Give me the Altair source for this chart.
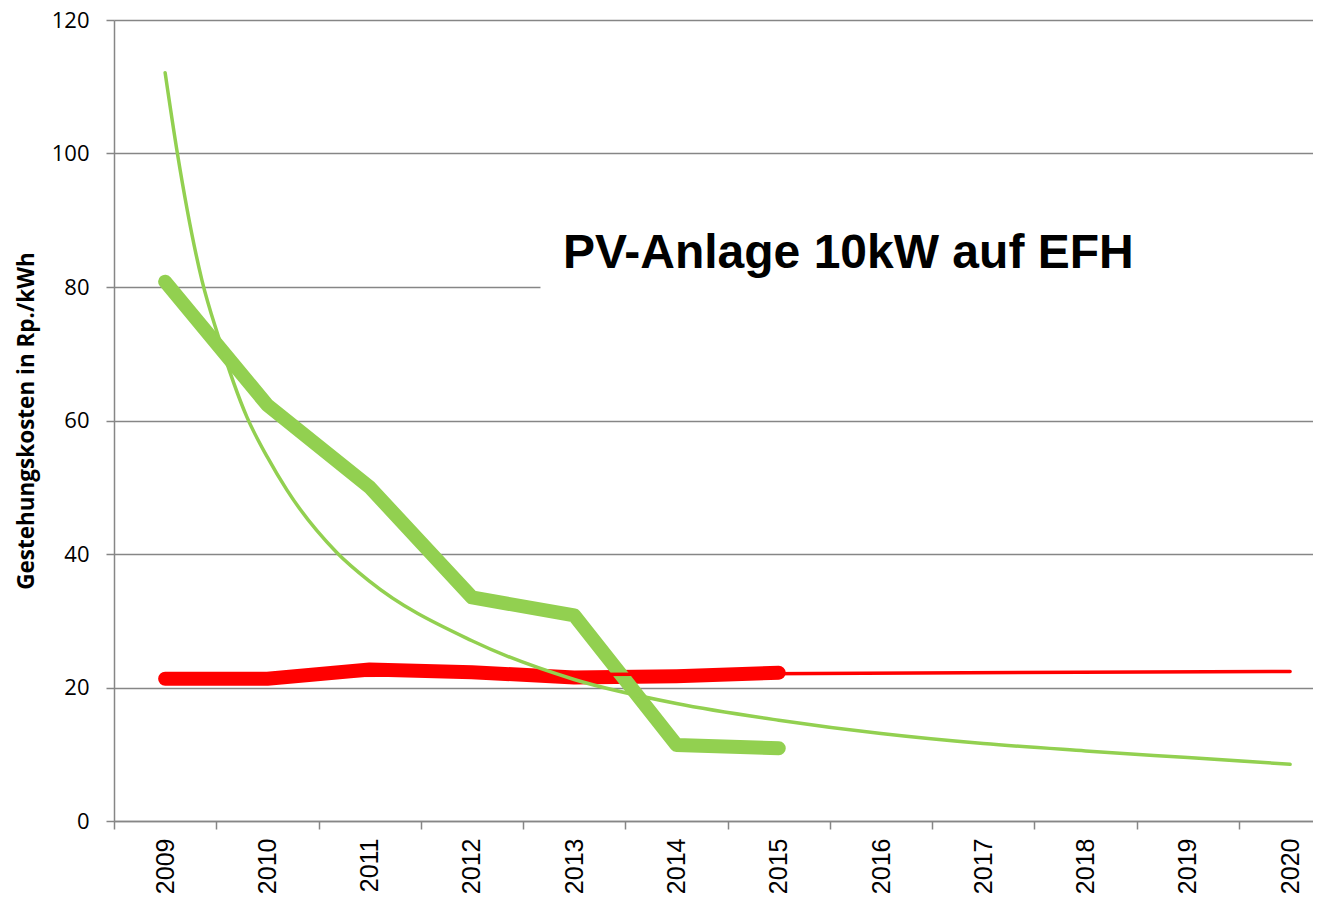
import altair as alt
import pandas as pd

# ---- data ----
pv_years = [2009, 2010, 2011, 2012, 2013, 2014, 2015]
pv_cost = [80.8, 62.3, 50.0, 33.5, 30.8, 11.4, 10.9]
grid_price = [21.3, 21.3, 22.7, 22.3, 21.5, 21.7, 22.2]

pv_trend_x = [2009, 2009.12, 2009.36, 2009.52, 2009.8, 2010, 2010.19, 2010.68,
              2011, 2012, 2013, 2014, 2015, 2016, 2017, 2018, 2019, 2020]
pv_trend_y = [112.1, 100, 81, 72.6, 60.5, 54.5, 49.6, 40.2,
              35.9, 27.0, 21.2, 17.6, 15.1, 13.1, 11.6, 10.5, 9.5, 8.5]

price_trend_x = [2009, 2020]
price_trend_y = [21.7, 22.4]

axis_years = list(range(2009, 2021))
y_ticks = [0, 20, 40, 60, 80, 100, 120]

title_text = "PV-Anlage 10kW auf EFH"
y_title = "Gestehungskosten in Rp./kWh"

GREEN = "#92D050"
RED = "#FF0000"
GRAY = "#868686"

PAD_LEFT = 106
W = 1305 - PAD_LEFT
H = 801
PX_PER_YEAR = 102.27
x_min = 2008.5
x_max = x_min + W / PX_PER_YEAR
half = PX_PER_YEAR / 2

pv_df = pd.DataFrame({"year": pv_years, "value": pv_cost})
price_df = pd.DataFrame({"year": pv_years, "value": grid_price})
pv_trend_df = pd.DataFrame({"year": pv_trend_x, "value": pv_trend_y})
price_trend_df = pd.DataFrame({"year": price_trend_x, "value": price_trend_y})

ann_box = pd.DataFrame({"x": [2012.67], "x2": [x_max], "y": [74], "y2": [92]})
ann_text = pd.DataFrame({"x": [2015.68], "y": [82.8], "text": [title_text]})

x_scale = alt.Scale(domain=[x_min, x_max], nice=False, zero=False)
y_scale = alt.Scale(domain=[0, 120], nice=False, zero=True)

x_axis = alt.Axis(
    values=axis_years, format="d", labelAngle=-90, labelFont="Liberation Sans",
    labelFontSize=25, labelColor="black", labelPadding=9, tickSize=8,
    tickOffset=-half, labelOffset=half, tickColor=GRAY, tickWidth=1.5,
    domainColor=GRAY, domainWidth=1.5, grid=False, title=None,
    labelFlush=False, labelOverlap=False, labelBound=False,
)
y_axis = alt.Axis(
    values=y_ticks, labelFont="Open Sans", labelFontSize=22, labelColor="black",
    labelPadding=17, tickSize=8, tickColor=GRAY, tickWidth=1.5,
    domainColor=GRAY, domainWidth=1.5, grid=True, gridColor=GRAY, gridWidth=1.5,
    title=y_title, titleFont="Open Sans", titleFontSize=22.5, titleFontWeight="bold",
    titleColor="black", titlePadding=13,
)

X = alt.X("year:Q", scale=x_scale, axis=x_axis)
Y = alt.Y("value:Q", scale=y_scale, axis=y_axis)

box = alt.Chart(ann_box).mark_rect(color="white", clip=True).encode(
    x=alt.X("x:Q", scale=x_scale, axis=x_axis), x2="x2:Q",
    y=alt.Y("y:Q", scale=y_scale, axis=y_axis), y2="y2:Q",
)

price_line = alt.Chart(price_df).mark_line(
    color=RED, strokeWidth=14, strokeCap="round", strokeJoin="round", clip=True
).encode(x=X, y=Y)

pv_line = alt.Chart(pv_df).mark_line(
    color=GREEN, strokeWidth=14, strokeCap="round", strokeJoin="round", clip=True
).encode(x=X, y=Y)

price_trend = alt.Chart(price_trend_df).mark_line(
    color=RED, strokeWidth=3.5, strokeCap="round", clip=True
).encode(x=X, y=Y)

pv_trend = alt.Chart(pv_trend_df).mark_line(
    color=GREEN, strokeWidth=3.5, strokeCap="round", interpolate="monotone", clip=True
).encode(x=X, y=Y)

title = alt.Chart(ann_text).mark_text(
    font="Liberation Sans", fontSize=48, fontWeight="bold", color="black",
    align="center", baseline="alphabetic",
).encode(
    x=alt.X("x:Q", scale=x_scale, axis=x_axis),
    y=alt.Y("y:Q", scale=y_scale, axis=y_axis),
    text="text:N",
)

chart = alt.layer(box, price_line, pv_line, price_trend, pv_trend, title).properties(
    width=W, height=H,
    autosize=alt.AutoSizeParams(type="none"),
    padding={"left": PAD_LEFT, "top": 12, "right": 0, "bottom": 78},
    background="white",
).configure_view(stroke=None)

chart.save("out.html", embed_options={"renderer": "svg", "actions": False})
